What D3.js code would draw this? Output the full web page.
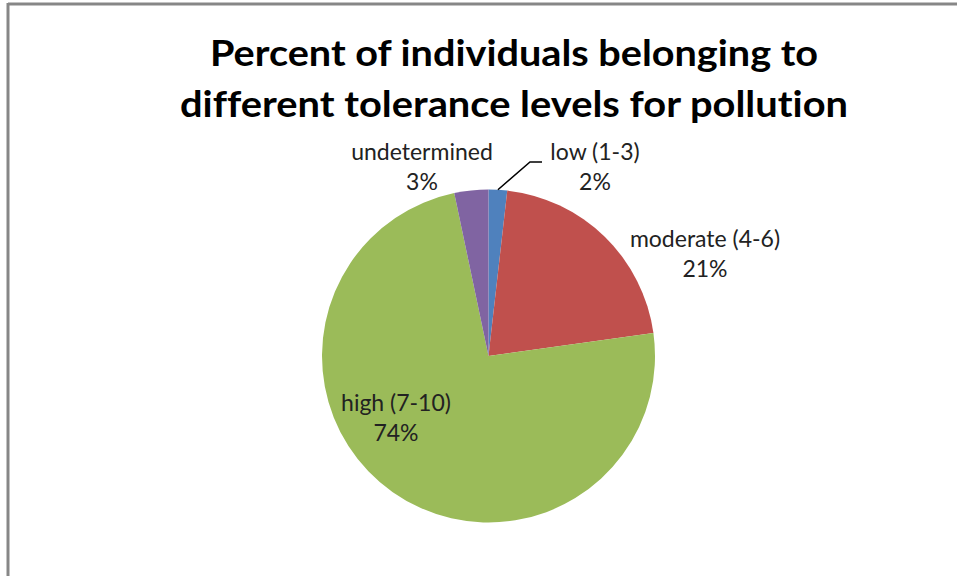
<!DOCTYPE html>
<html>
<head>
<meta charset="utf-8">
<script src="https://cdn.jsdelivr.net/npm/d3@7"></script>
<style>
  body { margin: 0; background: #fff; }
  text { font-family: Lato, "Open Sans", sans-serif; font-variant-ligatures: none; }
</style>
</head>
<body>
<svg id="chart" width="957" height="576"></svg>
<script>
// data
var categories = ["low (1-3)", "moderate (4-6)", "high (7-10)", "undetermined"];
var percents = [1.8, 21.0, 73.9, 3.3];
var colors = ["#4F81BD", "#C0504D", "#9BBB59", "#8064A2"];
var titleLines = ["Percent of individuals belonging to", "different tolerance levels for pollution"];

var svg = d3.select("#chart");

// frame (only top + left edges show in the crop)
svg.append("line").attr("x1", 8).attr("y1", 4).attr("x2", 957).attr("y2", 4)
  .attr("stroke", "#878787").attr("stroke-width", 3);
svg.append("line").attr("x1", 8).attr("y1", 3).attr("x2", 8).attr("y2", 576)
  .attr("stroke", "#878787").attr("stroke-width", 3);

// title
var titleW = [608, 668];
svg.selectAll(".title").data(titleLines).enter().append("text")
  .attr("class", "title")
  .attr("x", 514)
  .attr("y", function(d, i) { return 66 + i * 51; })
  .attr("text-anchor", "middle")
  .attr("font-size", 36)
  .attr("font-weight", "bold")
  .attr("fill", "#000")
  .attr("textLength", function(d, i) { return titleW[i]; })
  .attr("lengthAdjust", "spacingAndGlyphs")
  .text(function(d) { return d; });

// pie
var cx = 488.5, cy = 356, r = 166.5;
var pie = d3.pie().sort(null).value(function(d) { return d; });
var arc = d3.arc().innerRadius(0).outerRadius(r);
var arcs = pie(percents);

var g = svg.append("g").attr("transform", "translate(" + cx + "," + cy + ")");
g.selectAll("path").data(arcs).enter().append("path")
  .attr("d", arc)
  .attr("fill", function(d, i) { return colors[i]; });

// labels (anchor = centre of label block)
var labelPos = [[595, 160], [705, 247], [396, 411], [422, 160]];
var lbl = svg.selectAll(".lbl").data(arcs).enter().append("text")
  .attr("class", "lbl")
  .attr("text-anchor", "middle")
  .attr("font-size", 23)
  .attr("fill", "#222");
lbl.append("tspan")
  .attr("x", function(d, i) { return labelPos[i][0]; })
  .attr("y", function(d, i) { return labelPos[i][1]; })
  .text(function(d, i) { return categories[i]; });
lbl.append("tspan")
  .attr("x", function(d, i) { return labelPos[i][0]; })
  .attr("y", function(d, i) { return labelPos[i][1] + 30; })
  .text(function(d) { return Math.round(d.data) + "%"; });

// leader line for the small "low" slice
var a0 = (arcs[0].startAngle + arcs[0].endAngle) / 2;
var px = cx + r * Math.sin(a0), py = cy - r * Math.cos(a0);
svg.append("polyline")
  .attr("points", [[px, py], [530, 162], [542, 162]].map(function(p) { return p.join(","); }).join(" "))
  .attr("fill", "none")
  .attr("stroke", "#000")
  .attr("stroke-width", 1.5);
</script>
</body>
</html>
